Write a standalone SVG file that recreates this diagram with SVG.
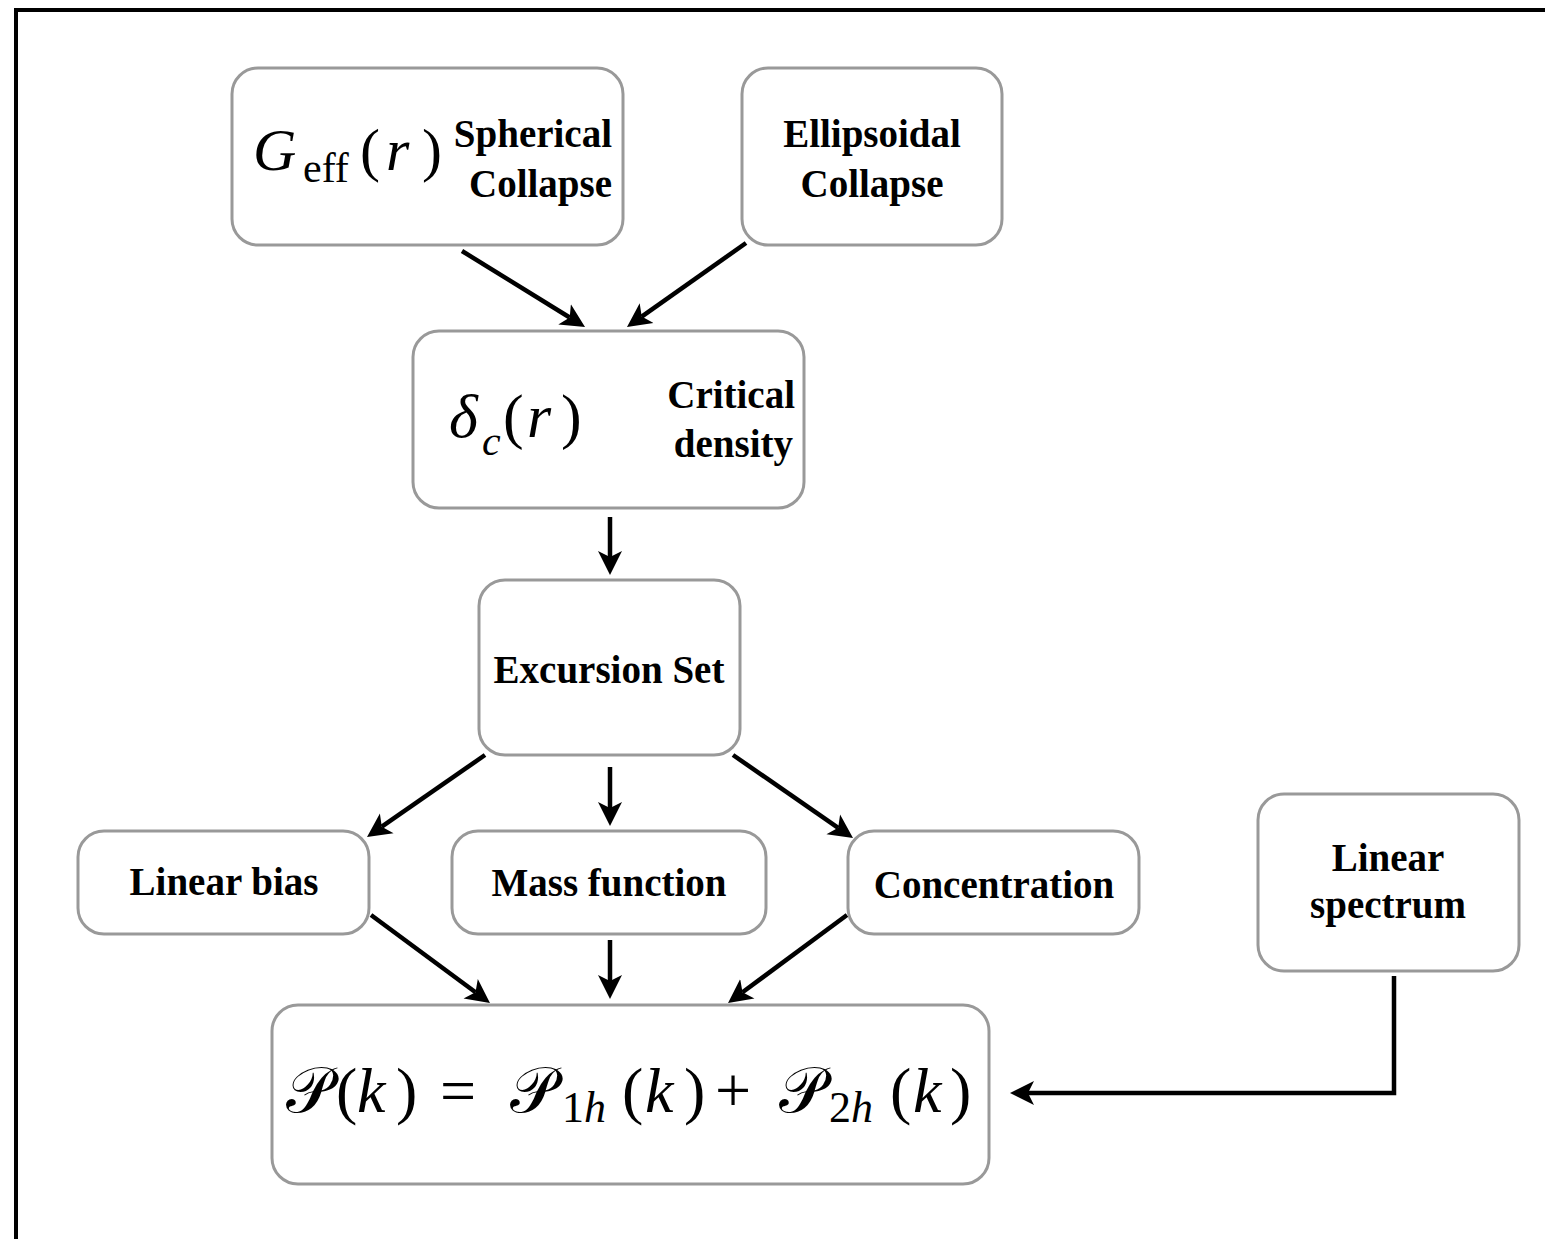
<svg xmlns="http://www.w3.org/2000/svg" width="1545" height="1239" viewBox="0 0 1545 1239">
<defs>
<style>
.box{fill:#fff;stroke:#999;stroke-width:3}
.lbl{font-family:"Liberation Serif","Times New Roman",serif;font-weight:bold;font-size:39px;fill:#000}
.math{font-family:"Liberation Serif","DejaVu Serif",serif;fill:#000}
.it{font-style:italic}
.edge{fill:none;stroke:#000;stroke-width:4.5;marker-end:url(#arr)}
</style>
<marker id="arr" markerUnits="userSpaceOnUse" markerWidth="26" markerHeight="26" refX="6" refY="12" orient="auto" viewBox="0 0 26 24">
<path d="M0,0 L24,12 L0,24 L6,12 Z" fill="#000"/>
</marker>
</defs>
<rect x="0" y="0" width="1545" height="1239" fill="#fff"/>
<rect x="16" y="10" width="1560" height="1260" fill="none" stroke="#000" stroke-width="4"/>

<g id="connectors">
<path class="edge" d="M462,251 L569.7,317.5"/>
<path class="edge" d="M746,243 L641.7,316.6"/>
<path class="edge" d="M610,517 L610,557"/>
<path class="edge" d="M485,755 L381.8,826.7"/>
<path class="edge" d="M610,767 L610,808"/>
<path class="edge" d="M733,755 L838.2,827.8"/>
<path class="edge" d="M371,915 L475.5,992.3"/>
<path class="edge" d="M610,940 L610,981"/>
<path class="edge" d="M847,915 L742.5,992.3"/>
<path class="edge" d="M1394,976 L1394,1093 L1028,1093"/>
</g>

<g id="spherical">
<rect class="box" x="232" y="68" width="391" height="177" rx="26"/>
<text class="math" y="170" font-size="60"><tspan class="it" x="253">G</tspan><tspan x="303" y="182" font-size="42">eff</tspan><tspan x="360" y="170">(</tspan><tspan class="it" x="386">r</tspan><tspan x="422">)</tspan></text>
<text class="lbl" x="612" y="147" text-anchor="end">Spherical</text>
<text class="lbl" x="612" y="197" text-anchor="end">Collapse</text>
</g>

<g id="ellipsoidal">
<rect class="box" x="742" y="68" width="260" height="177" rx="26"/>
<text class="lbl" x="872" y="147" text-anchor="middle">Ellipsoidal</text>
<text class="lbl" x="872" y="197" text-anchor="middle">Collapse</text>
</g>

<g id="critical">
<rect class="box" x="413" y="331" width="391" height="177" rx="26"/>
<text class="math" y="437" font-size="62"><tspan class="it" x="449">δ</tspan><tspan class="it" x="482" y="455" font-size="42">c</tspan><tspan x="503" y="437">(</tspan><tspan class="it" x="527">r</tspan><tspan x="561">)</tspan></text>
<text class="lbl" x="795" y="408" text-anchor="end">Critical</text>
<text class="lbl" x="793" y="457" text-anchor="end">density</text>
</g>

<g id="excursion">
<rect class="box" x="479" y="580" width="261" height="175" rx="26"/>
<text class="lbl" x="609" y="683" text-anchor="middle">Excursion Set</text>
</g>

<g id="linearbias">
<rect class="box" x="78" y="831" width="291" height="103" rx="26"/>
<text class="lbl" x="224" y="895" text-anchor="middle">Linear bias</text>
</g>

<g id="massfunction">
<rect class="box" x="452" y="831" width="314" height="103" rx="26"/>
<text class="lbl" x="609" y="896" text-anchor="middle">Mass function</text>
</g>

<g id="concentration">
<rect class="box" x="848" y="831" width="291" height="103" rx="26"/>
<text class="lbl" x="994" y="898" text-anchor="middle">Concentration</text>
</g>

<g id="linearspectrum">
<rect class="box" x="1258" y="794" width="261" height="177" rx="26"/>
<text class="lbl" x="1388" y="871" text-anchor="middle">Linear</text>
<text class="lbl" x="1388" y="918" text-anchor="middle">spectrum</text>
</g>

<g id="powerspectrum">
<rect class="box" x="272" y="1005" width="717" height="179" rx="26"/>
<text class="math" y="1112" font-size="64"><tspan x="286">𝒫</tspan><tspan x="336">(</tspan><tspan class="it" x="357">k</tspan><tspan x="396">)</tspan><tspan x="440">=</tspan><tspan x="510">𝒫</tspan><tspan x="562" y="1122" font-size="44">1</tspan><tspan class="it" y="1122" font-size="44">h</tspan><tspan x="622" y="1112">(</tspan><tspan class="it" x="645">k</tspan><tspan x="684">)</tspan><tspan x="715">+</tspan><tspan x="779">𝒫</tspan><tspan x="829" y="1122" font-size="44">2</tspan><tspan class="it" y="1122" font-size="44">h</tspan><tspan x="890" y="1112">(</tspan><tspan class="it" x="913">k</tspan><tspan x="950">)</tspan></text>
</g>
</svg>
